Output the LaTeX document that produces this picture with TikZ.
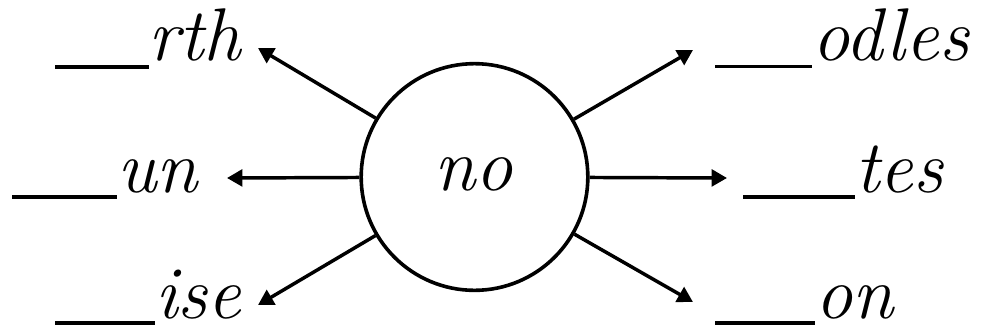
\documentclass[tikz,border=0pt]{standalone}
\usetikzlibrary{arrows.meta}
\begin{document}
\begin{tikzpicture}[x=0.75pt,y=-0.75pt,
  wordlbl/.style={anchor=base west,inner sep=0pt,font=\fontsize{56}{60}\selectfont\itshape},
  hub/.style={circle,draw,line width=2.7pt,minimum size=170pt,inner sep=0pt},
  spoke/.style={line width=2.6pt,-{Triangle[length=11.5pt,width=12.5pt]}}]
\useasboundingbox (0,0) rectangle (984,329);
\node[hub] (c) at (474.5,177) {};
\node[anchor=base,inner sep=0pt,font=\fontsize{56}{60}\selectfont\itshape] (w) at (474,190) {no};
\coordinate (t1) at (258,48);
\coordinate (t2) at (227,178);
\coordinate (t3) at (258,305);
\coordinate (t4) at (693,50);
\coordinate (t5) at (727,178);
\coordinate (t6) at (693,302);
\foreach \t in {t1,t2,t3,t4,t5,t6} \draw[spoke] (c) -- (\t);
\node[wordlbl] (l1) at (55,60) {\rule[-6.4pt]{70pt}{2.4pt}rth};
\node[wordlbl] (l2) at (12,192) {\rule[-5pt]{78.75pt}{2.4pt}un};
\node[wordlbl] (l3) at (55,318) {\rule[-5pt]{75pt}{2.4pt}ise};
\node[wordlbl] (l4) at (715,60) {\rule[-6pt]{72.75pt}{2.4pt}odles};
\node[wordlbl] (l5) at (743,192) {\rule[-5pt]{84pt}{2.4pt}tes};
\node[wordlbl] (l6) at (715,318) {\rule[-5pt]{75pt}{2.4pt}on};
\end{tikzpicture}
\end{document}
